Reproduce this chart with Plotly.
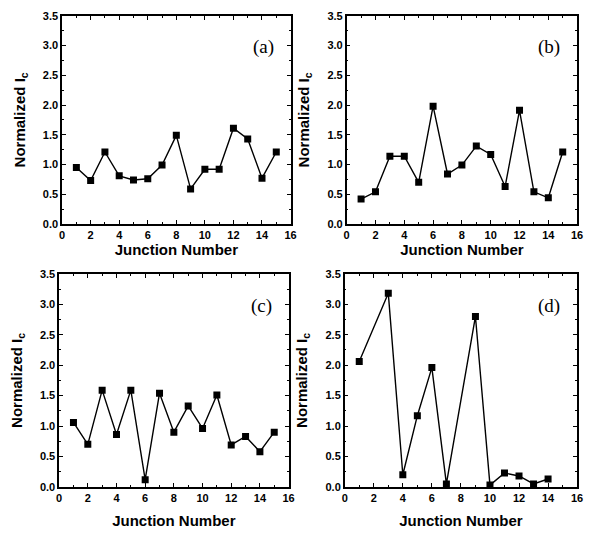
import plotly.graph_objects as go

# Data
junc_a = list(range(1, 16))
ic_a = [0.95, 0.73, 1.21, 0.81, 0.74, 0.76, 0.99, 1.49, 0.59, 0.92, 0.92, 1.61, 1.43, 0.77, 1.21]

junc_b = list(range(1, 16))
ic_b = [0.42, 0.54, 1.14, 1.14, 0.70, 1.98, 0.84, 0.99, 1.31, 1.17, 0.63, 1.91, 0.54, 0.44, 1.21]

junc_c = list(range(1, 16))
ic_c = [1.06, 0.70, 1.59, 0.86, 1.59, 0.12, 1.54, 0.90, 1.33, 0.96, 1.51, 0.69, 0.83, 0.58, 0.90]

junc_d = [1, 3, 4, 5, 6, 7, 9, 10, 11, 12, 13, 14]
ic_d = [2.06, 3.18, 0.20, 1.17, 1.96, 0.05, 2.80, 0.03, 0.23, 0.18, 0.05, 0.13]

panel_labels = ["(a)", "(b)", "(c)", "(d)"]
x_title = "Junction Number"
y_title = "Normalized I<sub>c</sub>"

W, H = 591, 534
# plot areas in pixels (left, right, top, bottom)
areas = [(60, 292, 10, 223), (349, 583, 10, 223), (57, 290, 274, 492), (347, 583, 274, 492)]
x_standoff = [5, 5, 13, 13]

fig = go.Figure()
series = [(junc_a, ic_a), (junc_b, ic_b), (junc_c, ic_c), (junc_d, ic_d)]

tickfont = dict(family="Liberation Sans", size=11, color="black", weight="bold")
titlefont = dict(family="Liberation Sans", size=15, color="black", weight="bold")

layout = dict(width=W, height=H, margin=dict(l=0, r=0, t=0, b=0),
              paper_bgcolor="white", plot_bgcolor="white", showlegend=False)

for i, ((xs, ys), (l, r, t, b)) in enumerate(zip(series, areas)):
    n = i + 1
    xa = "x" if n == 1 else f"x{n}"
    ya = "y" if n == 1 else f"y{n}"
    fig.add_trace(go.Scatter(x=xs, y=ys, mode="lines+markers", xaxis=xa, yaxis=ya,
                             line=dict(color="black", width=1.4),
                             marker=dict(symbol="square", size=7, color="black")))
    xkey = "xaxis" if n == 1 else f"xaxis{n}"
    ykey = "yaxis" if n == 1 else f"yaxis{n}"
    layout[xkey] = dict(domain=[l / W, r / W], anchor=ya, range=[0, 16], dtick=2, tick0=0,
                        ticks="inside", ticklen=4, tickwidth=1.2, tickcolor="black",
                        minor=dict(ticks="inside", ticklen=2, dtick=1, tickcolor="black"),
                        showline=True, linecolor="black", linewidth=1.5, mirror="ticks",
                        showgrid=False, zeroline=False, tickfont=tickfont,
                        title=dict(text=x_title, font=titlefont, standoff=x_standoff[i]))
    layout[ykey] = dict(domain=[1 - b / H, 1 - t / H], anchor=xa, range=[0, 3.5], dtick=0.5, tick0=0,
                        tickformat=".1f",
                        ticks="inside", ticklen=4, tickwidth=1.2, tickcolor="black",
                        minor=dict(ticks="inside", ticklen=2, dtick=0.25, tickcolor="black"),
                        showline=True, linecolor="black", linewidth=1.5, mirror="ticks",
                        showgrid=False, zeroline=False, tickfont=tickfont,
                        title=dict(text=y_title, font=titlefont, standoff=14))

fig.update_layout(**layout)

for i, (l, r, t, b) in enumerate(areas):
    n = i + 1
    xa = "x" if n == 1 else f"x{n}"
    ya = "y" if n == 1 else f"y{n}"
    fig.add_annotation(text=panel_labels[i], x=0.935, y=0.85, xref=f"{xa} domain", yref=f"{ya} domain",
                       showarrow=False, xanchor="right", yanchor="middle",
                       font=dict(family="Liberation Serif", size=19, color="black"))

fig.write_html("out.html", config={"displayModeBar": False},
               post_script="document.body.style.margin='0';")
